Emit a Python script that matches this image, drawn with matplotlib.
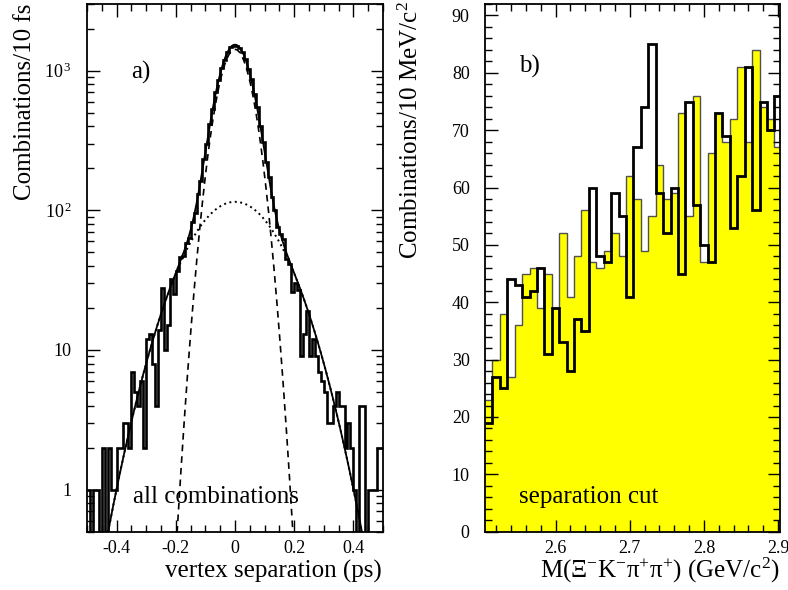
import numpy as np
import matplotlib
matplotlib.use("Agg")
import matplotlib.pyplot as plt
from matplotlib.ticker import MultipleLocator, FixedLocator, NullFormatter, FixedFormatter

plt.rcParams['font.family'] = ['Liberation Serif', 'DejaVu Serif']
plt.rcParams['mathtext.fontset'] = 'custom'
plt.rcParams['mathtext.rm'] = 'Liberation Serif'
plt.rcParams['mathtext.it'] = 'Liberation Serif:italic'
plt.rcParams['mathtext.bf'] = 'Liberation Serif:bold'

# ---------------- data: panel a) vertex separation (10 fs bins, -0.5..0.5 ps)
sep_edges_lo = -0.5
sep_edges_hi = 0.5
sep_counts = [
    1, 0, 1, 1, 0, 2, 0, 2, 1, 1,
    2, 2, 3, 3, 2, 7, 5, 4, 6, 2,
    12, 13, 8, 4, 14, 28, 10, 15, 32, 25,
    37, 46, 47, 58, 63, 82, 96, 130, 163, 232,
    298, 415, 530, 700, 850, 1050, 1200, 1370, 1470, 1510,
    1505, 1460, 1350, 1220, 1030, 870, 680, 545, 400, 310,
    222, 172, 124, 101, 76, 68, 62, 45, 41, 26,
    30, 27, 9, 13, 19, 9, 12, 9, 7, 6,
    5, 3, 3, 4, 5, 4, 4, 2, 3, 2,
    1, 0, 4, 4, 0, 1, 1, 1, 2, 2,
]
# fit components (Gaussian parameters)
narrow_amp, narrow_sigma = 1420.0, 0.049
wide_amp, wide_sigma = 115.0, 0.130

# ---------------- data: panel b) mass spectrum (10 MeV bins from 2.505)
mass_lo = 2.505
mass_bin = 0.01
mass_all = [19, 27, 25, 44, 43, 41, 42, 46, 31, 39,
            33, 28, 37, 35, 60, 48, 47, 59, 55, 41,
            67, 74, 85, 59, 52, 60, 45, 75, 57, 50,
            47, 73, 69, 53, 62, 81, 56, 75, 70, 76]
mass_cut = [23, 30, 38, 27, 36, 45, 46, 39, 45, 39,
            52, 41, 48, 56, 47, 46, 49, 52, 48, 62,
            58, 49, 55, 64, 58, 59, 73, 55, 76, 47,
            66, 73, 68, 72, 81, 68, 84, 74, 72, 67]

W, H = 788, 590
fig = plt.figure(figsize=(W / 100, H / 100), dpi=100)

def fx(px):
    return px / W

def fy(py):
    return 1 - py / H

axA = fig.add_axes([fx(87), fy(531.7), fx(383 - 87), (531.7 - 4) / H])
axB = fig.add_axes([fx(485), fy(531.7), fx(780 - 485), (531.7 - 4) / H])

# ---------------- panel a
edges = np.linspace(sep_edges_lo, sep_edges_hi, len(sep_counts) + 1)
counts = np.array(sep_counts, dtype=float)
plot_counts = np.where(counts > 0, counts, 1e-3)
axA.stairs(plot_counts, edges, baseline=None, color='black', lw=1.9)

xs = np.linspace(-0.5, 0.5, 1001)
g_n = narrow_amp * np.exp(-xs**2 / (2 * narrow_sigma**2))
g_w = wide_amp * np.exp(-xs**2 / (2 * wide_sigma**2))
axA.plot(xs, g_n + g_w, color='black', lw=1.3)
axA.plot(xs, g_n, color='black', lw=1.2, ls=(0, (4, 3)))
axA.plot(xs, g_w, color='black', lw=1.4, ls=(0, (1, 1.8)))

axA.set_yscale('log')
axA.set_xlim(-0.5, 0.5)
axA.set_ylim(0.5, 3000)
axA.xaxis.set_major_locator(FixedLocator([-0.4, -0.2, 0, 0.2, 0.4]))
axA.xaxis.set_major_formatter(FixedFormatter(['-0.4', '-0.2', '0', '0.2', '0.4']))
axA.xaxis.set_minor_locator(MultipleLocator(0.05))
axA.yaxis.set_major_locator(FixedLocator([1, 10, 100, 1000]))
axA.yaxis.set_major_formatter(FixedFormatter(['1', '10', r'$10^{\,2}$', r'$10^{\,3}$']))
minors = [m * 10**d for d in range(-1, 4) for m in range(2, 10)]
axA.yaxis.set_minor_locator(FixedLocator(minors))
axA.yaxis.set_minor_formatter(NullFormatter())

# ---------------- panel b
medges = mass_lo + mass_bin * np.arange(len(mass_all) + 1)
axB.stairs(mass_cut, medges, fill=True, color='#ffff00', baseline=0)
axB.stairs(mass_cut, medges, color='#505050', lw=1.0, baseline=None)
axB.stairs(mass_all, medges, color='black', lw=2.0, baseline=None)
axB.set_xlim(2.505, 2.9025)
axB.set_ylim(0, 92)
axB.xaxis.set_major_locator(FixedLocator([2.6, 2.7, 2.8, 2.9]))
axB.xaxis.set_major_formatter(FixedFormatter(['2.6', '2.7', '2.8', '2.9']))
axB.xaxis.set_minor_locator(FixedLocator(np.arange(2.52, 2.905, 0.02)))
axB.yaxis.set_major_locator(MultipleLocator(10))
axB.yaxis.set_minor_locator(MultipleLocator(2))

for ax in (axA, axB):
    for s in ax.spines.values():
        s.set_linewidth(1.3)
    ax.tick_params(which='both', direction='in', top=True, right=True,
                   width=1.0, labelsize=13, colors='black')
    ax.tick_params(which='major', length=9)
    ax.tick_params(which='minor', length=5)
    ax.tick_params(axis='x', pad=6)
    ax.tick_params(axis='y', pad=11)

# ---------------- texts
fig.text(fx(25), fy(4), 'Combinations/10 fs', rotation=90, ha='center', va='top', fontsize=18)
fig.text(fx(411), fy(1), r'Combinations/10 MeV/c$^{2}$', rotation=90, ha='center', va='top', fontsize=18)
fig.text(fx(382), fy(578), 'vertex separation (ps)', ha='right', va='baseline', fontsize=18)
fig.text(fx(780), fy(578), r'M(Ξ$^{-}$K$^{-}$π$^{+}$π$^{+}$) (GeV/c$^{2}$)', ha='right', va='baseline', fontsize=18)
fig.text(fx(131), fy(79), 'a)', ha='left', va='baseline', fontsize=18)
fig.text(fx(519), fy(73), 'b)', ha='left', va='baseline', fontsize=18)
fig.text(fx(133), fy(503), 'all combinations', ha='left', va='baseline', fontsize=18)
fig.text(fx(519), fy(503), 'separation cut', ha='left', va='baseline', fontsize=18)

fig.savefig('out.png', dpi=100)
